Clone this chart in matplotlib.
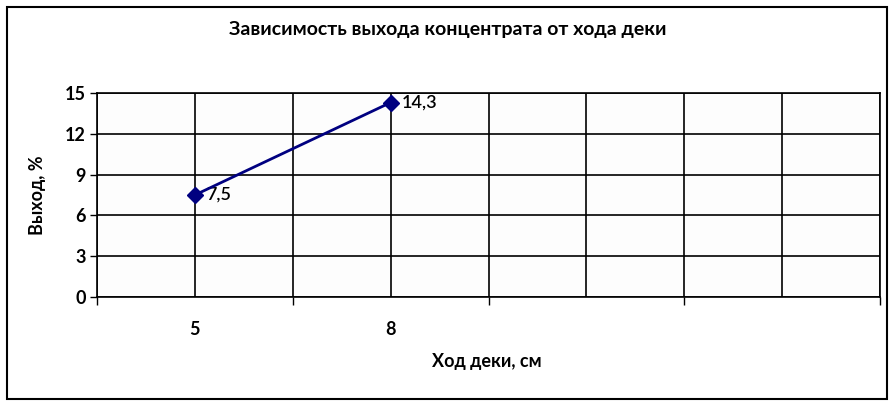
import matplotlib.pyplot as plt
from matplotlib.patches import Rectangle
from matplotlib.ticker import FixedLocator

plt.rcParams['font.family'] = ['Lato', 'DejaVu Sans']

# data
categories = ["5", "8", "", ""]
yield_values = [7.5, 14.3]
value_labels = ["7,5", "14,3"]
y_ticks = [0, 3, 6, 9, 12, 15]

fig = plt.figure(figsize=(8.96, 4.05), dpi=100)
fig.patches.append(Rectangle((7 / 896, 1 - 399 / 405), 880 / 896, 392 / 405,
                             transform=fig.transFigure, fill=False,
                             edgecolor="black", linewidth=1.5))

ax = fig.add_axes([97 / 896, 1 - 297 / 405, 783 / 896, 204 / 405])
ax.set_facecolor("#fdfdfd")

n = len(categories)
x = list(range(len(yield_values)))
ax.plot(x, yield_values, color="#000080", linewidth=2, marker="D",
        markersize=8, markerfacecolor="#000080", markeredgecolor="#000080", zorder=5)
for xi, yi, lab in zip(x, yield_values, value_labels):
    ax.annotate(lab, (xi, yi), xytext=(8, 0), textcoords="offset points",
                ha="left", va="center", fontsize=13, fontweight=600, color="black")

ax.set_xlim(-0.5, n - 0.5)
ax.set_ylim(0, 15)

# category labels at centres, tick marks at boundaries
ax.set_xticks(range(n))
ax.set_xticklabels(categories, fontsize=13, fontweight="bold")
ax.tick_params(axis="x", which="major", length=0, pad=17)
ax.xaxis.set_minor_locator(FixedLocator([i - 0.5 for i in range(n + 1)]))
ax.tick_params(axis="x", which="minor", length=6, width=1, direction="out")

ax.set_yticks(y_ticks)
ax.set_yticklabels([str(v) for v in y_ticks], fontsize=13, fontweight="bold")
ax.tick_params(axis="y", length=5, width=1, direction="out", pad=3)

# gridlines every half category
for gx in [i * 0.5 - 0.5 for i in range(2 * n + 1)]:
    ax.axvline(gx, color="black", linewidth=1.2, zorder=1)
for gy in y_ticks:
    ax.axhline(gy, color="black", linewidth=1.2, zorder=1)

for s in ax.spines.values():
    s.set_color("black")
    s.set_linewidth(1.2)

fig.text(448 / 896, 1 - 30 / 405, "Зависимость выхода концентрата от хода деки",
         ha="center", va="center", fontsize=14, fontweight="bold")
fig.text(37 / 896, 1 - 195 / 405, "Выход, %", rotation=90,
         ha="center", va="center", fontsize=13, fontweight="bold")
fig.text(487 / 896, 1 - 362 / 405, "Ход деки, см",
         ha="center", va="center", fontsize=13, fontweight="bold")

fig.savefig("out.png", dpi=100)
